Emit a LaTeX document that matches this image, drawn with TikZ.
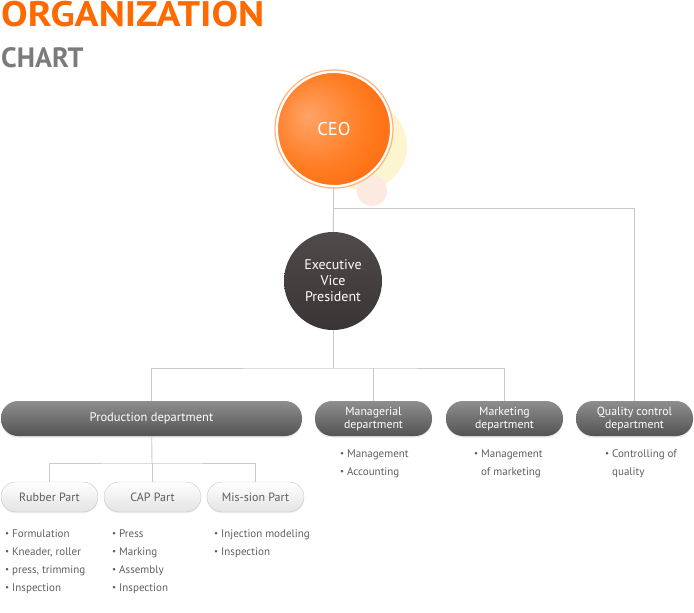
\documentclass[tikz,border=0pt]{standalone}
\usepackage{fontspec}
\setmainfont{PT Sans}
\newfontfamily\titlefont{PT Sans}[FakeStretch=1.12]
\usetikzlibrary{positioning,shadows}

\definecolor{titleorange}{HTML}{FF6A00}
\definecolor{titlegray}{HTML}{7B7B7B}
\definecolor{linkgray}{HTML}{C9C9C9}
\definecolor{textgray}{HTML}{5E5E5E}
\definecolor{ceolight}{HTML}{FFA468}
\definecolor{ceomid}{HTML}{FF7A1E}
\definecolor{ceodark}{HTML}{FF5800}
\definecolor{ceoring}{HTML}{FFB27E}
\definecolor{glowyellow}{HTML}{FCF5CF}
\definecolor{glowpink}{HTML}{FCE9E0}
\definecolor{evptop}{HTML}{504A4A}
\definecolor{evpbottom}{HTML}{3A3535}
\definecolor{depttop}{HTML}{8E8E8E}
\definecolor{deptbottom}{HTML}{535353}
\definecolor{partline}{HTML}{C6C6C6}
\definecolor{partbottom}{HTML}{E3E3E3}

\pgfdeclareradialshading{ceoshade}{\pgfpoint{-12bp}{6bp}}{%
  color(0bp)=(ceolight); color(22bp)=(ceomid); color(50bp)=(ceodark)}

\newcommand{\orgdot}{\makebox[7pt][l]{\fontsize{9}{9}\selectfont\raisebox{0.2pt}{\textbullet}}}

\begin{document}
\begin{tikzpicture}[x=1pt,y=-1pt,
  link/.style={draw=linkgray,line width=0.9pt},
  deptbox/.style={rectangle,rounded corners=17pt,minimum height=35pt,inner sep=0pt,
    top color=depttop,bottom color=deptbottom,text=white,align=center,
    font=\fontsize{11.8}{13}\selectfont,
    drop shadow={opacity=0.2,shadow xshift=0pt,shadow yshift=-1.5pt}},
  partbox/.style={rectangle,rounded corners=15pt,minimum width=97pt,minimum height=30pt,
    inner sep=0pt,draw=partline,top color=white,bottom color=partbottom,text=textgray,
    font=\fontsize{12}{13}\selectfont,
    drop shadow={opacity=0.12,shadow xshift=0pt,shadow yshift=-1.2pt}},
  item/.style={anchor=base west,inner sep=0pt,text=textgray,font=\fontsize{11}{12}\selectfont}]
\useasboundingbox (0,0) rectangle (694,613);

% title
\node[anchor=base west,inner sep=0pt,text=titleorange,font=\fontsize{35.5}{36}\titlefont\bfseries] (title) at (1,27) {ORGANIZATION};
\node[anchor=base west,inner sep=0pt,text=titlegray,font=\fontsize{28}{29}\selectfont\bfseries] (subtitle) at (1,67) {CHART};

% ceo
\fill[glowyellow] (363,146) circle[radius=44];
\fill[glowpink] (372,191) circle[radius=15];
\node[circle,minimum size=114pt,inner sep=0pt,shading=ceoshade,draw=white,line width=2pt,
  text=white,font=\fontsize{18.5}{19}\selectfont] (ceo) at (334,129) {CEO};
\draw[ceoring,line width=1.2pt] (ceo.center) circle[radius=59];

% vice president
\node[circle,minimum size=98pt,inner sep=0pt,top color=evptop,bottom color=evpbottom,
  text=white,align=center,font=\fontsize{14}{16}\selectfont] (evp) at (333,281) {Executive\\Vice\\President};

% departments
\node[deptbox,minimum width=301pt,font=\fontsize{12.5}{13}\selectfont] (prod) at (151.5,418.5) {Production department};
\node[deptbox,minimum width=117pt] (mngr) at (373.5,418.5) {Managerial\\department};
\node[deptbox,minimum width=117pt] (mktg) at (504.5,418.5) {Marketing\\department};
\node[deptbox,minimum width=117pt] (qual) at (634.5,418.5) {Quality control\\department};

% parts
\node[partbox] (rubber) at (49.5,497) {Rubber Part};
\node[partbox] (cap) at (152.5,497) {CAP Part};
\node[partbox] (mission) at (255.5,497) {Mis-sion Part};

% links
\coordinate (qbus) at (334,208);
\coordinate (bus) at (333,368);
\coordinate (pbus) at (152,463);
\draw[link] (ceo) -- (evp);
\draw[link] (qbus) -| (qual.north);
\draw[link] (evp) -- (bus);
\draw[link] (prod.north) |- (bus) -| (mktg.north);
\draw[link] (mngr.north) -- (mngr.north |- bus);
\draw[link] (prod) -- (pbus);
\draw[link] (rubber.north) |- (pbus) -| (mission.north);
\draw[link] (cap.north) -- (cap.north |- pbus);

% duties
\node[item] (mngr1) at (340,457) {\orgdot Management};
\node[item] (mngr2) at (340,475) {\orgdot Accounting};
\node[item] (mktg1) at (474,457) {\orgdot Management};
\node[item] (mktg2) at (481,475) {of marketing};
\node[item] (qual1) at (605,457) {\orgdot Controlling of};
\node[item] (qual2) at (612,475) {quality};
\foreach \txt [count=\i] in {Formulation,{Kneader, roller},{press, trimming},Inspection}
  \node[item] (rubber\i) at (5,519+18*\i) {\orgdot\txt};
\foreach \txt [count=\i] in {Press,Marking,Assembly,Inspection}
  \node[item] (cap\i) at (112,519+18*\i) {\orgdot\txt};
\foreach \txt [count=\i] in {Injection modeling,Inspection}
  \node[item] (mission\i) at (214,519+18*\i) {\orgdot\txt};
\end{tikzpicture}
\end{document}
